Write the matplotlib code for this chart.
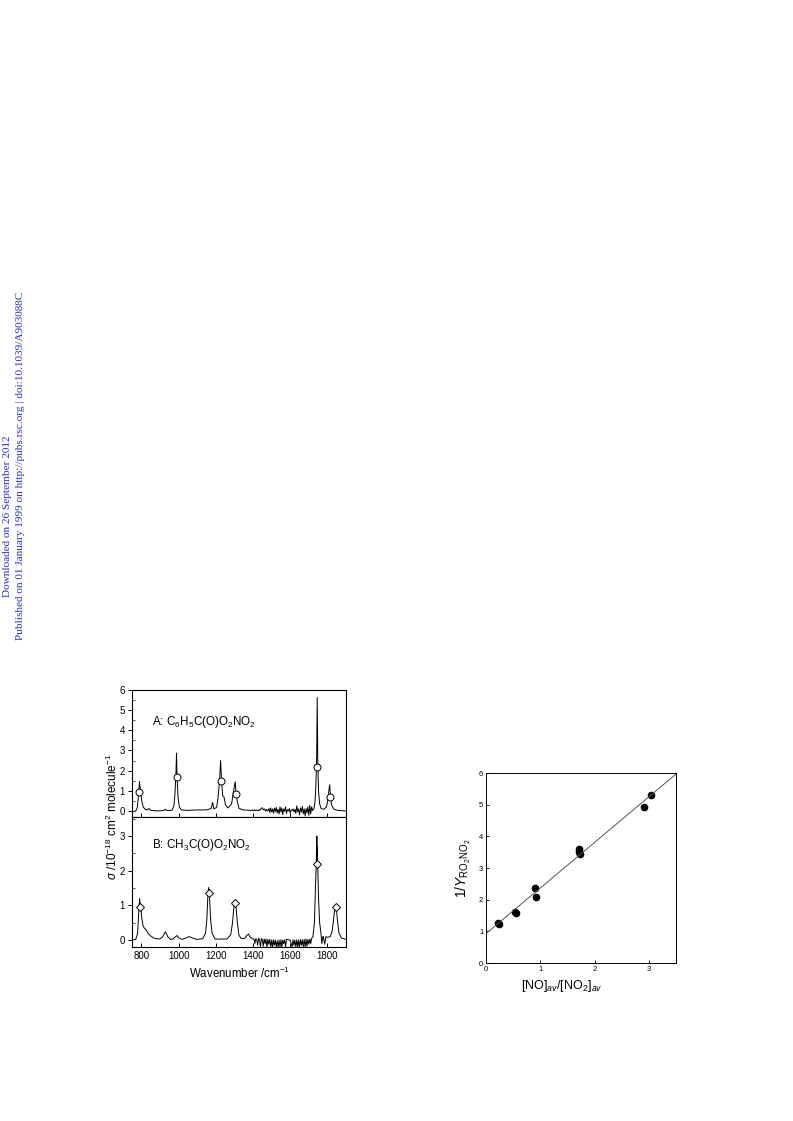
import matplotlib.pyplot as plt
from matplotlib.ticker import MultipleLocator

plt.rcParams['font.family'] = ['Liberation Sans', 'DejaVu Sans']
plt.rcParams['mathtext.fontset'] = 'custom'
plt.rcParams['mathtext.rm'] = 'Liberation Sans'
plt.rcParams['mathtext.it'] = 'Liberation Sans:italic'
plt.rcParams['mathtext.bf'] = 'Liberation Sans:bold'

# spectrum A: C6H5C(O)O2NO2 (wavenumber, cross section / 1e-18)
a_wn = [750, 770, 778, 783, 787, 790, 793, 797, 802, 810, 820, 833, 841, 848, 880,
        920, 929, 938, 965, 975, 981, 986, 989, 992, 997, 1004, 1015, 1050, 1100,
        1150, 1175, 1183, 1190, 1205, 1212, 1220, 1226, 1231, 1237, 1244, 1252,
        1265, 1285, 1294, 1304, 1308, 1315, 1325, 1350, 1385]
a_sig = [-0.05, 0.0, 0.15, 0.6, 1.1, 1.45, 1.2, 0.95, 0.5, 0.2, 0.08, 0.05, 0.12, 0.04, 0.0,
         0.02, 0.08, 0.02, 0.03, 0.25, 0.9, 1.9, 2.87, 1.7, 0.7, 0.2, 0.05, 0.03, 0.05,
         0.05, 0.12, 0.42, 0.1, 0.18, 0.65, 1.5, 2.5, 1.5, 0.75, 0.7, 0.3,
         0.15, 0.35, 0.9, 1.45, 1.0, 0.5, 0.12, 0.05, 0.03]
a_noise_wn = [1390, 1396, 1402, 1408, 1414, 1420, 1426, 1432, 1438, 1444, 1450, 1456,
              1462, 1468, 1474, 1480, 1486, 1490, 1495, 1500, 1505, 1510, 1515, 1520,
              1525, 1530, 1535, 1540, 1545, 1550, 1555, 1560, 1565, 1570, 1575, 1580,
              1585, 1590, 1595, 1600, 1605, 1610, 1615, 1620, 1625, 1630, 1635, 1640,
              1645, 1650, 1655, 1660, 1665, 1670, 1675, 1680, 1685, 1690, 1695, 1700,
              1705, 1710, 1715, 1720]
a_noise = [0.02, 0.05, 0.01, 0.06, 0.02, 0.04, 0.0, 0.07, 0.03, 0.12, 0.16, 0.05,
           0.1, -0.02, 0.08, 0.0, 0.12, -0.08, 0.15, -0.05, 0.1, -0.12, 0.14, -0.03,
           0.18, -0.1, 0.08, -0.15, 0.2, -0.05, 0.15, -0.18, 0.1, -0.02, 0.2, -0.12,
           0.06, 0.0, 0.12, -0.1, 0.05, 0.02, 0.1, -0.05, 0.08, -0.12, 0.25, -0.05,
           0.1, -0.2, 0.15, -0.05, 0.22, -0.15, 0.1, -0.25, 0.12, -0.1, 0.2, -0.22,
           0.28, -0.15, 0.2, 0.02]
a_tail_wn = [1727, 1733, 1738, 1742, 1745, 1748, 1752, 1758, 1766, 1780, 1795, 1803,
             1808, 1812, 1816, 1822, 1835, 1860, 1900]
a_tail = [0.1, 0.45, 1.3, 2.7, 5.63, 2.5, 1.0, 0.35, 0.12, 0.08, 0.2, 0.6,
          1.05, 1.3, 0.8, 0.3, 0.08, 0.02, 0.0]
a_mark_wn = [790, 989, 1226, 1306, 1745, 1814]
a_mark = [0.92, 1.7, 1.5, 0.86, 2.2, 0.7]

# spectrum B: CH3C(O)O2NO2
b_wn = [750, 770, 780, 785, 788, 791, 794, 798, 803, 810, 817, 825, 835, 850, 870,
        900, 915, 929, 942, 956, 970, 984, 992, 1002, 1020, 1040, 1057, 1075, 1097,
        1130, 1145, 1152, 1158, 1162, 1166, 1172, 1180, 1196, 1260, 1280, 1290,
        1298, 1304, 1308, 1316, 1324, 1335, 1355, 1368, 1376, 1385, 1400]
b_sig = [0.0, 0.02, 0.2, 0.7, 1.0, 1.2, 0.96, 0.9, 0.6, 0.4, 0.34, 0.3, 0.2, 0.12, 0.05,
         0.03, 0.1, 0.24, 0.1, 0.02, 0.03, 0.1, 0.13, 0.06, 0.02, 0.06, 0.1, 0.06, 0.02,
         0.04, 0.2, 0.6, 1.35, 1.52, 1.3, 0.6, 0.2, 0.03, 0.03, 0.15, 0.5,
         1.0, 1.1, 1.0, 0.5, 0.15, 0.05, 0.05, 0.14, 0.17, 0.08, 0.03]
b_noise_wn = [1405, 1410, 1415, 1420, 1425, 1430, 1435, 1440, 1445, 1450, 1455, 1460,
              1465, 1470, 1475, 1480, 1485, 1490, 1495, 1500, 1505, 1510, 1515, 1520,
              1525, 1530, 1535, 1540, 1545, 1550, 1555, 1560, 1565, 1570, 1575, 1580,
              1590, 1600, 1610, 1615, 1620, 1625, 1630, 1635, 1640, 1645, 1650, 1655,
              1660, 1665, 1670, 1675, 1680, 1685, 1690, 1695, 1700, 1705, 1710, 1715]
b_noise = [0.03, -0.1, 0.04, 0.02, -0.15, 0.05, 0.03, -0.2, 0.04, 0.02, -0.18, 0.03,
           -0.1, 0.03, -0.2, 0.02, -0.12, 0.02, -0.2, 0.0, -0.2, 0.01, -0.15, 0.0,
           -0.2, -0.02, -0.2, 0.0, -0.2, 0.01, -0.2, 0.0, -0.1, 0.01, -0.2, 0.02,
           0.01, 0.0, -0.2, 0.01, -0.15, 0.0, -0.2, 0.01, -0.2, 0.0, -0.2, 0.02,
           -0.15, 0.01, -0.2, 0.02, -0.2, 0.03, -0.18, 0.02, -0.12, 0.03, -0.1, 0.05]
b_tail_wn = [1722, 1730, 1736, 1740, 1741, 1742, 1743, 1744, 1745, 1746, 1748, 1752,
             1758, 1765, 1770, 1775, 1778, 1785, 1792, 1800, 1815, 1825, 1833, 1840,
             1844, 1848, 1855, 1862, 1875, 1900]
b_tail = [0.1, 0.5, 1.6, 2.2, 2.6, 2.3, 3.0, 2.4, 2.7, 2.3, 2.1, 1.2,
          0.5, 0.2, -0.1, 0.1, 0.1, -0.12, 0.1, 0.08, 0.1, 0.25, 0.6, 0.95,
          1.0, 0.9, 0.5, 0.2, 0.06, 0.02]
b_mark_wn = [794, 1162, 1304, 1742, 1844]
b_mark = [0.96, 1.35, 1.06, 2.2, 0.95]

# right panel: 1/Y vs [NO]/[NO2]
ratio = [0.22, 0.24, 0.53, 0.55, 0.90, 0.92, 1.72, 1.72, 1.73, 2.91, 3.03]
inv_yield = [1.25, 1.22, 1.60, 1.57, 2.38, 2.07, 3.60, 3.52, 3.44, 4.92, 5.30]
fit_intercept = 0.93
fit_slope = 1.44

fig = plt.figure(figsize=(7.93, 11.21), dpi=100)

# left: two stacked spectra
ax_a = fig.add_axes([0.1665, 0.2712, 0.2699, 0.1133])
ax_b = fig.add_axes([0.1665, 0.1552, 0.2699, 0.1160])

ax_a.plot(a_wn + a_noise_wn + a_tail_wn, a_sig + a_noise + a_tail, color='black', lw=0.7)
ax_a.plot(a_mark_wn, a_mark, 'o', ms=5, mfc='white', mec='black', mew=0.7)
ax_a.set_xlim(750, 1900)
ax_a.set_ylim(-0.3, 6)
ax_a.set_yticks(range(0, 7))
ax_a.yaxis.set_minor_locator(MultipleLocator(0.5))
ax_a.set_xticks(range(800, 1900, 200))
ax_a.tick_params(axis='x', direction='inout', length=6, labelbottom=False, width=0.7)
ax_a.tick_params(axis='y', direction='out', length=3, labelsize=7, width=0.7, pad=2)
ax_a.tick_params(axis='y', which='minor', direction='in', length=2, width=0.5)
ax_a.text(855, 4.4, 'A: C$_6$H$_5$C(O)O$_2$NO$_2$', fontsize=8.4, va='center')

ax_b.plot(b_wn + b_noise_wn + b_tail_wn, b_sig + b_noise + b_tail, color='black', lw=0.7)
ax_b.plot(b_mark_wn, b_mark, 'D', ms=4.5, mfc='white', mec='black', mew=0.7)
ax_b.set_xlim(750, 1900)
ax_b.set_ylim(-0.2, 3.55)
ax_b.set_yticks(range(0, 4))
ax_b.yaxis.set_minor_locator(MultipleLocator(0.5))
ax_b.set_xticks(range(800, 1900, 200))
ax_b.tick_params(axis='x', direction='in', length=3, labelsize=7, width=0.7, pad=3)
ax_b.tick_params(axis='y', direction='out', length=3, labelsize=7, width=0.7, pad=2)
ax_b.tick_params(axis='y', which='minor', direction='in', length=2, width=0.5)
ax_b.text(855, 2.74, 'B: CH$_3$C(O)O$_2$NO$_2$', fontsize=8.4, va='center')
ax_b.set_xlabel('Wavenumber /cm$^{-1}$', fontsize=8.3, labelpad=3)

for ax in (ax_a, ax_b):
    for sp in ax.spines.values():
        sp.set_linewidth(0.8)

fig.text(112 / 793, 1 - 817 / 1121, r'$\sigma$ /10$^{-18}$ cm$^2$ molecule$^{-1}$',
         rotation=90, ha='center', va='center', fontsize=8.5)

# right: linear fit plot
ax_r = fig.add_axes([0.6129, 0.1409, 0.2396, 0.1695])
ax_r.plot(ratio, inv_yield, 'o', color='black', ms=4.5)
fit_x = [0, 3.5]
fit_y = [fit_intercept + fit_slope * x for x in fit_x]
ax_r.plot(fit_x, fit_y, color='#555555', lw=0.7)
ax_r.set_xlim(0, 3.5)
ax_r.set_ylim(0, 6)
ax_r.set_xticks([0, 1, 2, 3])
ax_r.set_yticks(range(0, 7))
ax_r.tick_params(direction='in', length=2, labelsize=5.5, width=0.6, pad=2)
for sp in ax_r.spines.values():
    sp.set_linewidth(0.7)
ax_r.set_xlabel('[NO]$_{av}$/[NO$_2$]$_{av}$', fontsize=9, labelpad=2)
ax_r.xaxis.set_label_coords(0.40, -0.08)
ax_r.set_ylabel('1/$Y_{\\rm RO_2NO_2}$', fontsize=10, labelpad=4)

# side watermark
blue = '#2b2bd0'
fig.text(8 / 793, 1 - 597 / 1121, 'Downloaded on 26 September 2012', rotation=90,
         ha='center', va='bottom', fontsize=8.1, color=blue, family='Liberation Serif')
fig.text(21 / 793, 1 - 640 / 1121,
         'Published on 01 January 1999 on http://pubs.rsc.org | doi:10.1039/A903088C',
         rotation=90, ha='center', va='bottom', fontsize=8.1, color=blue,
         family='Liberation Serif')

fig.savefig('out.png', dpi=100)
